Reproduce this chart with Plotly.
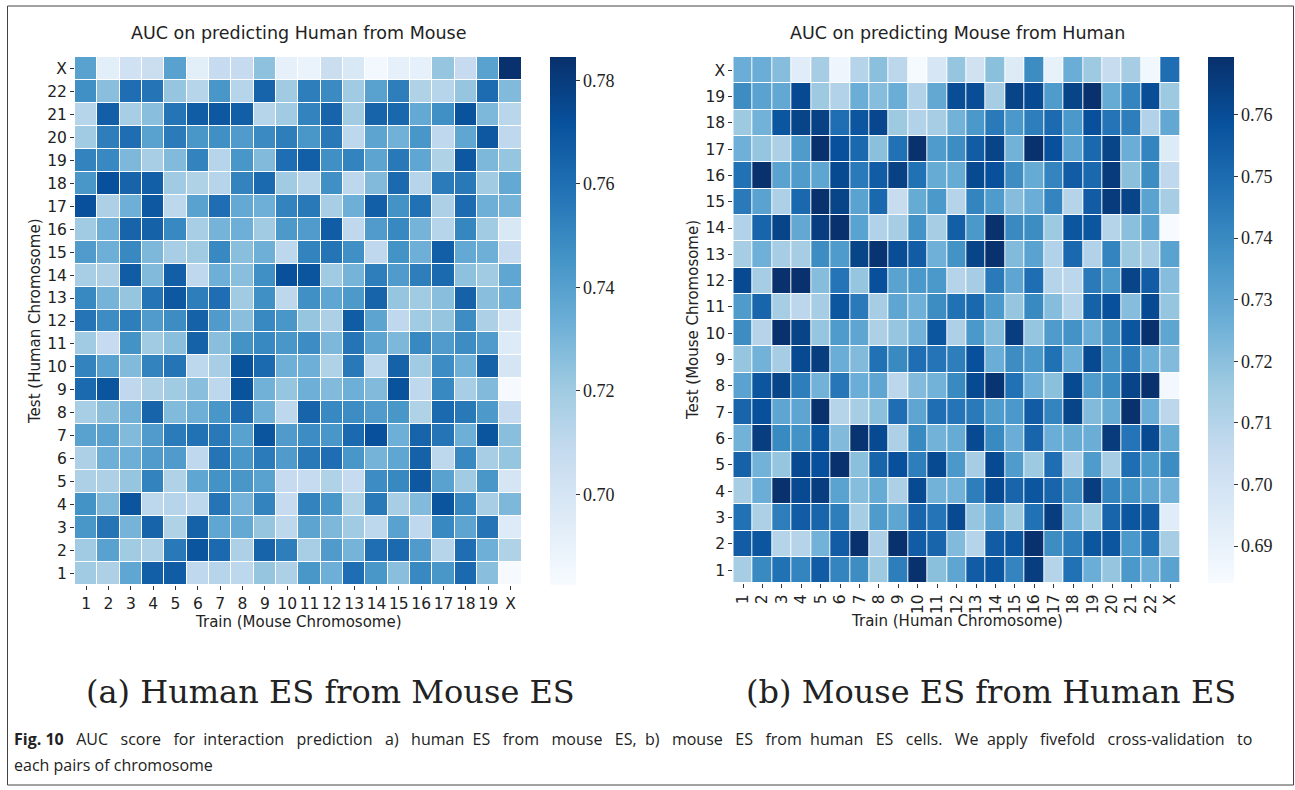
import plotly.graph_objects as go

# ---------------- data ----------------
mouse_chr = [str(i) for i in range(1, 20)] + ["X"]   # 20
human_chr = [str(i) for i in range(1, 23)] + ["X"]   # 23

# (a) rows = test human chromosome 1..22, X ; cols = train mouse chromosome 1..19, X
human_from_mouse = [
    [0.720,0.716,0.737,0.766,0.767,0.710,0.713,0.711,0.723,0.716,0.744,0.733,0.760,0.744,0.726,0.750,0.744,0.762,0.726,0.683],
    [0.720,0.739,0.720,0.716,0.756,0.770,0.762,0.716,0.764,0.754,0.718,0.742,0.731,0.760,0.762,0.742,0.713,0.760,0.733,0.715],
    [0.744,0.758,0.731,0.764,0.715,0.765,0.737,0.736,0.723,0.711,0.738,0.729,0.720,0.711,0.739,0.710,0.750,0.738,0.758,0.696],
    [0.746,0.729,0.770,0.711,0.713,0.711,0.758,0.731,0.752,0.708,0.752,0.744,0.715,0.756,0.718,0.728,0.770,0.750,0.718,0.729],
    [0.716,0.716,0.723,0.752,0.715,0.737,0.746,0.744,0.739,0.708,0.708,0.715,0.708,0.748,0.750,0.769,0.739,0.720,0.744,0.700],
    [0.716,0.733,0.733,0.742,0.742,0.710,0.758,0.744,0.755,0.742,0.756,0.760,0.744,0.731,0.737,0.765,0.711,0.750,0.718,0.723],
    [0.739,0.739,0.728,0.742,0.755,0.759,0.756,0.739,0.770,0.742,0.748,0.744,0.762,0.772,0.733,0.764,0.758,0.733,0.770,0.726],
    [0.718,0.726,0.732,0.764,0.728,0.733,0.744,0.762,0.733,0.711,0.764,0.750,0.748,0.742,0.744,0.715,0.762,0.756,0.743,0.708],
    [0.762,0.770,0.710,0.716,0.720,0.726,0.711,0.771,0.732,0.723,0.733,0.728,0.733,0.728,0.771,0.710,0.750,0.718,0.728,0.683],
    [0.752,0.739,0.728,0.752,0.758,0.711,0.718,0.771,0.762,0.733,0.733,0.715,0.756,0.711,0.765,0.720,0.748,0.733,0.765,0.700],
    [0.720,0.708,0.746,0.720,0.726,0.765,0.726,0.746,0.750,0.744,0.748,0.729,0.758,0.738,0.729,0.750,0.742,0.748,0.742,0.696],
    [0.758,0.748,0.754,0.742,0.748,0.765,0.742,0.726,0.750,0.744,0.723,0.716,0.767,0.738,0.710,0.720,0.723,0.748,0.716,0.700],
    [0.750,0.731,0.723,0.758,0.769,0.754,0.760,0.720,0.747,0.711,0.747,0.737,0.743,0.764,0.723,0.720,0.726,0.765,0.726,0.733],
    [0.718,0.716,0.767,0.728,0.766,0.710,0.733,0.726,0.747,0.772,0.770,0.720,0.731,0.754,0.742,0.754,0.762,0.725,0.720,0.737],
    [0.742,0.733,0.750,0.729,0.718,0.720,0.750,0.726,0.733,0.711,0.752,0.758,0.747,0.710,0.746,0.733,0.766,0.736,0.733,0.708],
    [0.720,0.733,0.764,0.765,0.750,0.718,0.731,0.733,0.720,0.743,0.742,0.767,0.710,0.742,0.750,0.731,0.713,0.751,0.720,0.698],
    [0.772,0.716,0.733,0.769,0.711,0.739,0.760,0.736,0.733,0.752,0.756,0.718,0.733,0.766,0.746,0.759,0.716,0.761,0.733,0.731],
    [0.744,0.772,0.764,0.766,0.720,0.715,0.713,0.752,0.762,0.720,0.713,0.747,0.711,0.728,0.762,0.713,0.755,0.756,0.720,0.736],
    [0.752,0.750,0.729,0.718,0.728,0.752,0.713,0.744,0.728,0.760,0.766,0.747,0.752,0.738,0.756,0.737,0.715,0.769,0.729,0.723],
    [0.720,0.754,0.760,0.739,0.755,0.744,0.747,0.742,0.749,0.754,0.744,0.756,0.711,0.738,0.732,0.744,0.710,0.737,0.769,0.710],
    [0.713,0.766,0.718,0.726,0.758,0.767,0.769,0.766,0.713,0.720,0.752,0.764,0.720,0.764,0.763,0.736,0.747,0.771,0.729,0.712],
    [0.747,0.726,0.760,0.758,0.723,0.713,0.744,0.713,0.764,0.720,0.754,0.749,0.720,0.739,0.754,0.715,0.713,0.723,0.761,0.728],
    [0.739,0.693,0.703,0.706,0.739,0.693,0.708,0.708,0.725,0.691,0.689,0.706,0.698,0.685,0.691,0.691,0.723,0.708,0.739,0.784],
]

# (b) rows = test mouse chromosome 1..19, X ; cols = train human chromosome 1..22, X
mouse_from_human = [
    [0.714,0.740,0.748,0.742,0.755,0.742,0.739,0.716,0.744,0.769,0.720,0.730,0.755,0.757,0.742,0.765,0.710,0.748,0.727,0.718,0.735,0.727,0.731],
    [0.755,0.757,0.710,0.710,0.725,0.755,0.769,0.712,0.769,0.755,0.752,0.722,0.710,0.755,0.757,0.769,0.739,0.744,0.757,0.757,0.735,0.748,0.714],
    [0.748,0.712,0.744,0.755,0.752,0.744,0.714,0.734,0.730,0.752,0.747,0.761,0.718,0.730,0.716,0.748,0.765,0.725,0.716,0.752,0.757,0.755,0.694],
    [0.714,0.727,0.769,0.761,0.765,0.731,0.721,0.728,0.712,0.761,0.725,0.725,0.744,0.761,0.752,0.757,0.752,0.739,0.765,0.742,0.737,0.730,0.725],
    [0.753,0.725,0.718,0.761,0.759,0.769,0.720,0.752,0.759,0.744,0.761,0.735,0.714,0.761,0.734,0.716,0.749,0.712,0.734,0.714,0.749,0.735,0.739],
    [0.725,0.765,0.740,0.737,0.757,0.722,0.768,0.761,0.712,0.740,0.725,0.728,0.761,0.740,0.727,0.752,0.727,0.728,0.727,0.766,0.747,0.761,0.728],
    [0.752,0.759,0.730,0.730,0.769,0.710,0.714,0.720,0.749,0.730,0.749,0.747,0.745,0.734,0.735,0.755,0.742,0.763,0.722,0.728,0.769,0.727,0.708],
    [0.731,0.757,0.763,0.744,0.725,0.746,0.727,0.730,0.708,0.722,0.725,0.740,0.761,0.768,0.748,0.727,0.720,0.761,0.734,0.740,0.763,0.769,0.686],
    [0.718,0.725,0.714,0.761,0.765,0.727,0.722,0.748,0.740,0.749,0.747,0.744,0.759,0.727,0.739,0.735,0.748,0.727,0.761,0.737,0.744,0.727,0.722],
    [0.739,0.710,0.769,0.763,0.718,0.734,0.730,0.712,0.718,0.725,0.757,0.712,0.735,0.721,0.765,0.718,0.734,0.737,0.727,0.739,0.757,0.769,0.730],
    [0.734,0.752,0.714,0.708,0.714,0.757,0.745,0.714,0.730,0.726,0.739,0.748,0.751,0.735,0.718,0.740,0.721,0.710,0.753,0.759,0.721,0.761,0.718],
    [0.761,0.714,0.769,0.769,0.721,0.747,0.718,0.759,0.731,0.735,0.735,0.710,0.714,0.745,0.730,0.749,0.710,0.708,0.745,0.735,0.763,0.755,0.721],
    [0.714,0.726,0.714,0.714,0.739,0.734,0.763,0.768,0.760,0.755,0.726,0.737,0.763,0.769,0.722,0.731,0.711,0.751,0.711,0.742,0.716,0.714,0.731],
    [0.711,0.752,0.763,0.729,0.765,0.769,0.731,0.711,0.714,0.737,0.714,0.754,0.735,0.769,0.740,0.739,0.716,0.757,0.757,0.710,0.720,0.731,0.684],
    [0.745,0.731,0.712,0.751,0.769,0.763,0.731,0.751,0.705,0.728,0.735,0.710,0.742,0.734,0.721,0.727,0.742,0.710,0.755,0.766,0.763,0.731,0.714],
    [0.748,0.769,0.731,0.734,0.730,0.761,0.745,0.755,0.764,0.748,0.728,0.728,0.761,0.759,0.739,0.728,0.742,0.755,0.751,0.766,0.720,0.739,0.707],
    [0.726,0.718,0.712,0.734,0.769,0.759,0.751,0.720,0.748,0.769,0.734,0.739,0.755,0.763,0.725,0.769,0.759,0.731,0.751,0.763,0.727,0.742,0.695],
    [0.716,0.725,0.757,0.763,0.764,0.749,0.757,0.762,0.716,0.711,0.714,0.725,0.735,0.745,0.735,0.744,0.750,0.735,0.759,0.747,0.744,0.711,0.729],
    [0.739,0.731,0.729,0.761,0.716,0.711,0.727,0.721,0.727,0.711,0.729,0.760,0.760,0.714,0.763,0.761,0.734,0.763,0.769,0.728,0.742,0.760,0.716],
    [0.727,0.727,0.721,0.694,0.714,0.688,0.710,0.720,0.708,0.685,0.698,0.718,0.701,0.720,0.695,0.739,0.691,0.727,0.716,0.705,0.714,0.687,0.749],
]

left_cbar_ticks = [0.70, 0.72, 0.74, 0.76, 0.78]
right_cbar_ticks = [0.69, 0.70, 0.71, 0.72, 0.73, 0.74, 0.75, 0.76]
left_range = (0.6825, 0.7845)
right_range = (0.684, 0.7694)

caption_line1_words = ["Fig. 10", "AUC", "score", "for", "interaction", "prediction", "a)", "human", "ES", "from",
                       "mouse", "ES,", "b)", "mouse", "ES", "from", "human", "ES", "cells.", "We", "apply",
                       "fivefold", "cross-validation", "to"]
caption_line2 = "each pairs of chromosome"

# ---------------- style ----------------
W, H = 1295, 790
blues = [[0.0, "#f7fbff"], [0.125, "#deebf7"], [0.25, "#c6dbef"], [0.375, "#9ecae1"],
         [0.5, "#6baed6"], [0.625, "#4292c6"], [0.75, "#2171b5"], [0.875, "#08519c"],
         [1.0, "#08306b"]]
SANS = "DejaVu Sans"
SERIF = "DejaVu Serif"
TXT = "#222222"

def px(x):
    return x / W

def py(y):
    return 1 - y / H

cbar_common = dict(thickness=26, thicknessmode="pixels", lenmode="fraction",
                   outlinewidth=0, ticks="outside", ticklen=4, tickcolor="#333",
                   tickfont=dict(family="Liberation Serif", size=18, color=TXT), tickformat=".2f",
                   xanchor="left", yanchor="top", xpad=0, ypad=0)

fig = go.Figure()
fig.add_trace(go.Heatmap(
    z=human_from_mouse, x=mouse_chr, y=human_chr, colorscale=blues,
    zmin=left_range[0], zmax=left_range[1], xgap=1, ygap=1,
    xaxis="x", yaxis="y",
    colorbar=dict(x=px(550), y=py(57), len=(585 - 57) / H, tickvals=left_cbar_ticks, **cbar_common),
))
fig.add_trace(go.Heatmap(
    z=mouse_from_human, x=human_chr, y=mouse_chr, colorscale=blues,
    zmin=right_range[0], zmax=right_range[1], xgap=1, ygap=1,
    xaxis="x2", yaxis="y2",
    colorbar=dict(x=px(1208), y=py(57), len=(583.3 - 57) / H, tickvals=right_cbar_ticks, **cbar_common),
))

axis_common = dict(type="category", showgrid=False, zeroline=False, showline=False,
                   ticks="outside", ticklen=4, tickwidth=1, tickcolor="#333",
                   tickfont=dict(family=SANS, size=15.5, color=TXT), fixedrange=True)

fig.update_layout(
    width=W, height=H, margin=dict(l=0, r=0, t=0, b=0),
    paper_bgcolor="white", plot_bgcolor="white", showlegend=False,
    xaxis=dict(domain=[px(75), px(521.7)], anchor="y", tickmode="array",
               tickvals=mouse_chr, ticktext=mouse_chr, tickangle=0, **axis_common),
    yaxis=dict(domain=[py(585), py(57)], anchor="x", tickmode="array",
               tickvals=human_chr, ticktext=human_chr, **axis_common),
    xaxis2=dict(domain=[px(733.3), px(1180)], anchor="y2", tickmode="array",
                tickvals=human_chr, ticktext=human_chr, tickangle=-90, **axis_common),
    yaxis2=dict(domain=[py(583.3), py(57)], anchor="x2", tickmode="array",
                tickvals=mouse_chr, ticktext=mouse_chr, **axis_common),
)

def ann(text, x, y, size, family=SANS, angle=0, xanchor="center", yanchor="middle", color=TXT):
    fig.add_annotation(text=text, x=px(x), y=py(y), xref="paper", yref="paper",
                       showarrow=False, textangle=angle, xanchor=xanchor, yanchor=yanchor,
                       font=dict(family=family, size=size, color=color))

# panel titles
ann("AUC on predicting Human from Mouse", 298, 33, 17.5)
ann("AUC on predicting Mouse from Human", 957, 33, 17.5)
# axis titles
ann("Test (Human Chromosome)", 35, 321, 15, angle=-90)
ann("Train (Mouse Chromosome)", 298, 622, 15)
ann("Test (Mouse Chromosome)", 693, 320, 15, angle=-90)
ann("Train (Human Chromosome)", 957, 621, 15)
# sub-captions
ann("(a) Human ES from Mouse ES", 330, 692, 32, family=SERIF)
ann("(b) Mouse ES from Human ES", 991, 692, 32, family=SERIF)

# figure caption: first line is justified in the original, widen the word gaps
NB = "\u00a0"
parts = []
for i, w in enumerate(caption_line1_words):
    if i == 0:
        parts.append("<b>" + w.replace(" ", NB) + "</b>")
    else:
        gap = NB * (2 if i % 4 == 0 else 3)
        parts.append(gap + w)
ann("".join(parts), 12, 739, 16, family="Open Sans", xanchor="left")
ann(caption_line2, 12, 765, 16, family="Open Sans", xanchor="left")

# figure frame
fig.add_shape(type="rect", xref="paper", yref="paper", x0=px(7.5), x1=px(1293.5), y0=py(785), y1=py(6),
              line=dict(color="#444", width=1), fillcolor="rgba(0,0,0,0)")

fig.write_html("out.html")
